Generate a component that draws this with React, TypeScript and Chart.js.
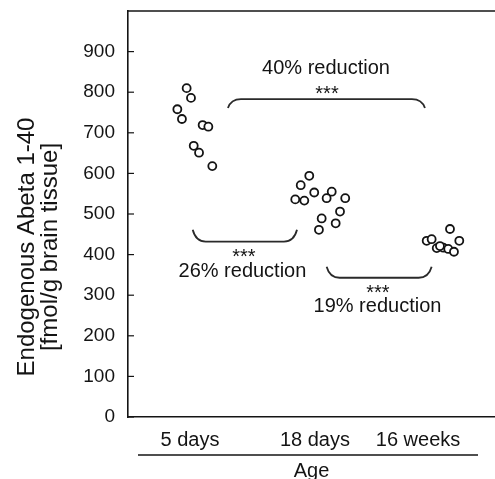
import React, { useEffect, useRef } from 'react';
import { Chart, registerables } from 'chart.js';

Chart.register(...registerables);

// ---- data ----
const categories = ['5 days', '18 days', '16 weeks'];
const categoryTickPositions = [0.96, 1.968, 2.799];
const yTickValues = [0, 100, 200, 300, 400, 500, 600, 700, 800, 900];

const days5X = [0.933, 0.968, 0.858, 0.895, 1.062, 1.108, 0.99, 1.033, 1.14];
const days5Y = [810, 786, 758, 734, 719, 715, 668, 651, 618];

const days18X = [1.922, 1.853, 1.962, 2.103, 1.809, 1.882, 2.062, 2.212, 2.17, 2.022, 2.135, 2.0];
const days18Y = [594, 571, 553, 555, 536, 533, 539, 539, 506, 489, 477, 461];

const weeks16X = [2.869, 2.909, 2.95, 3.003, 3.043, 3.089, 3.132, 3.057, 2.976];
const weeks16Y = [434, 438, 416, 417, 414, 407, 434, 463, 421];

// comparison brackets (data units)
const bracketFrom = [1.266, 0.982, 2.062];
const bracketTo = [2.855, 1.823, 2.909];
const bracketLevel = [783, 432, 343];
const bracketTip = [761, 461, 370];

const reductionLabels = ['40% reduction', '26% reduction', '19% reduction'];
const reductionX = [2.057, 1.383, 2.472];
const reductionY = [845, 346, 258];

const significanceLabels = ['***', '***', '***'];
const significanceX = [2.065, 1.395, 2.476];
const significanceY = [781, 380, 291];

const yTitleLines = ['Endogenous Abeta 1-40', '[fmol/g brain tissue]'];
const xTitle = 'Age';

const FONT = '"Liberation Sans", Arial, Helvetica, sans-serif';
const INK = '#141414';

function toPoints(xs: number[], ys: number[]) {
  return xs.map((x, i) => ({ x, y: ys[i] }));
}

const overlayPlugin = {
  id: 'overlay',
  afterDraw(chart: any) {
    const { ctx, chartArea, scales } = chart;
    const xs = scales.x;
    const ys = scales.y;
    ctx.save();
    ctx.strokeStyle = INK;
    ctx.lineWidth = 1.6;
    // top frame line
    ctx.beginPath();
    ctx.moveTo(chartArea.left, chartArea.top);
    ctx.lineTo(chartArea.right, chartArea.top);
    ctx.stroke();
    // inward tick marks
    ctx.lineWidth = 1.2;
    for (const v of yTickValues) {
      const py = ys.getPixelForValue(v);
      ctx.beginPath();
      ctx.moveTo(chartArea.left, py);
      ctx.lineTo(chartArea.left + 6, py);
      ctx.stroke();
    }
    // brackets
    ctx.lineWidth = 1.8;
    ctx.strokeStyle = '#2a2a2a';
    for (let i = 0; i < bracketFrom.length; i++) {
      const x1 = xs.getPixelForValue(bracketFrom[i]);
      const x2 = xs.getPixelForValue(bracketTo[i]);
      const yf = ys.getPixelForValue(bracketLevel[i]);
      const yt = ys.getPixelForValue(bracketTip[i]);
      const c = 13;
      ctx.beginPath();
      ctx.moveTo(x1, yt);
      ctx.quadraticCurveTo(x1 + 3, yf, x1 + c, yf);
      ctx.lineTo(x2 - c, yf);
      ctx.quadraticCurveTo(x2 - 3, yf, x2, yt);
      ctx.stroke();
    }
    // texts
    ctx.fillStyle = INK;
    ctx.textAlign = 'center';
    ctx.textBaseline = 'alphabetic';
    ctx.font = `20px ${FONT}`;
    for (let i = 0; i < reductionLabels.length; i++) {
      ctx.fillText(reductionLabels[i], xs.getPixelForValue(reductionX[i]), ys.getPixelForValue(reductionY[i]));
    }
    for (let i = 0; i < significanceLabels.length; i++) {
      ctx.fillText(significanceLabels[i], xs.getPixelForValue(significanceX[i]), ys.getPixelForValue(significanceY[i]));
    }
    // line under category labels
    ctx.strokeStyle = INK;
    ctx.lineWidth = 1.6;
    ctx.beginPath();
    ctx.moveTo(chartArea.left + 10, chartArea.bottom + 38);
    ctx.lineTo(chartArea.right - 17, chartArea.bottom + 38);
    ctx.stroke();
    // y axis title
    ctx.font = `24px ${FONT}`;
    ctx.textBaseline = 'middle';
    const cy = 247;
    yTitleLines.forEach((line, i) => {
      ctx.save();
      ctx.translate(27 + i * 23, cy);
      ctx.rotate(-Math.PI / 2);
      ctx.fillText(line, 0, 0);
      ctx.restore();
    });
    ctx.restore();
  },
};

export default function App() {
  const canvasRef = useRef<HTMLCanvasElement | null>(null);

  useEffect(() => {
    const canvas = canvasRef.current;
    if (!canvas) return;
    const pointStyle = {
      pointRadius: 4,
      pointBorderWidth: 1.8,
      pointBackgroundColor: '#ffffff',
      pointBorderColor: INK,
      showLine: false,
    };
    const chart = new Chart(canvas, {
      type: 'scatter',
      data: {
        datasets: [
          { label: categories[0], data: toPoints(days5X, days5Y), ...pointStyle },
          { label: categories[1], data: toPoints(days18X, days18Y), ...pointStyle },
          { label: categories[2], data: toPoints(weeks16X, weeks16Y), ...pointStyle },
        ],
      },
      options: {
        responsive: false,
        animation: false,
        devicePixelRatio: 1,
        layout: { padding: { top: 11, right: 0, left: 0, bottom: 0 }, autoPadding: false },
        plugins: { legend: { display: false }, tooltip: { enabled: false } },
        scales: {
          x: {
            type: 'linear',
            min: 0.46,
            max: 3.42,
            grid: { display: false, drawTicks: false },
            border: { display: true, color: INK, width: 1.6 },
            afterBuildTicks: (scale: any) => {
              scale.ticks = categoryTickPositions.map((v) => ({ value: v }));
            },
            afterFit: (scale: any) => {
              scale.height = 62;
              scale.paddingLeft = 0;
              scale.paddingRight = 0;
            },
            ticks: {
              padding: 11,
              color: INK,
              maxRotation: 0,
              autoSkip: false,
              font: { family: FONT, size: 20 },
              callback: (value: any) => {
                const idx = categoryTickPositions.indexOf(Number(value));
                return idx >= 0 ? categories[idx] : '';
              },
            },
            title: {
              display: true,
              text: xTitle,
              color: INK,
              font: { family: FONT, size: 20, lineHeight: 0.8 },
              padding: { top: 0, bottom: 0 },
            },
          },
          y: {
            type: 'linear',
            min: 0,
            max: 1000,
            grid: { display: false, drawTicks: false },
            border: { display: true, color: INK, width: 1.6 },
            afterBuildTicks: (scale: any) => {
              scale.ticks = yTickValues.map((v) => ({ value: v }));
            },
            afterFit: (scale: any) => {
              scale.width = 128;
              scale.paddingTop = 0;
              scale.paddingBottom = 0;
            },
            ticks: {
              padding: 13,
              color: INK,
              font: { family: FONT, size: 19 },
              callback: (value: any) => String(value),
            },
          },
        },
      },
      plugins: [overlayPlugin],
    });
    return () => chart.destroy();
  }, []);

  return (
    <div style={{ position: 'fixed', left: 0, top: 0, width: 495, height: 479, background: '#fff' }}>
      <canvas ref={canvasRef} width={495} height={479} style={{ width: 495, height: 479, display: 'block' }} />
    </div>
  );
}
